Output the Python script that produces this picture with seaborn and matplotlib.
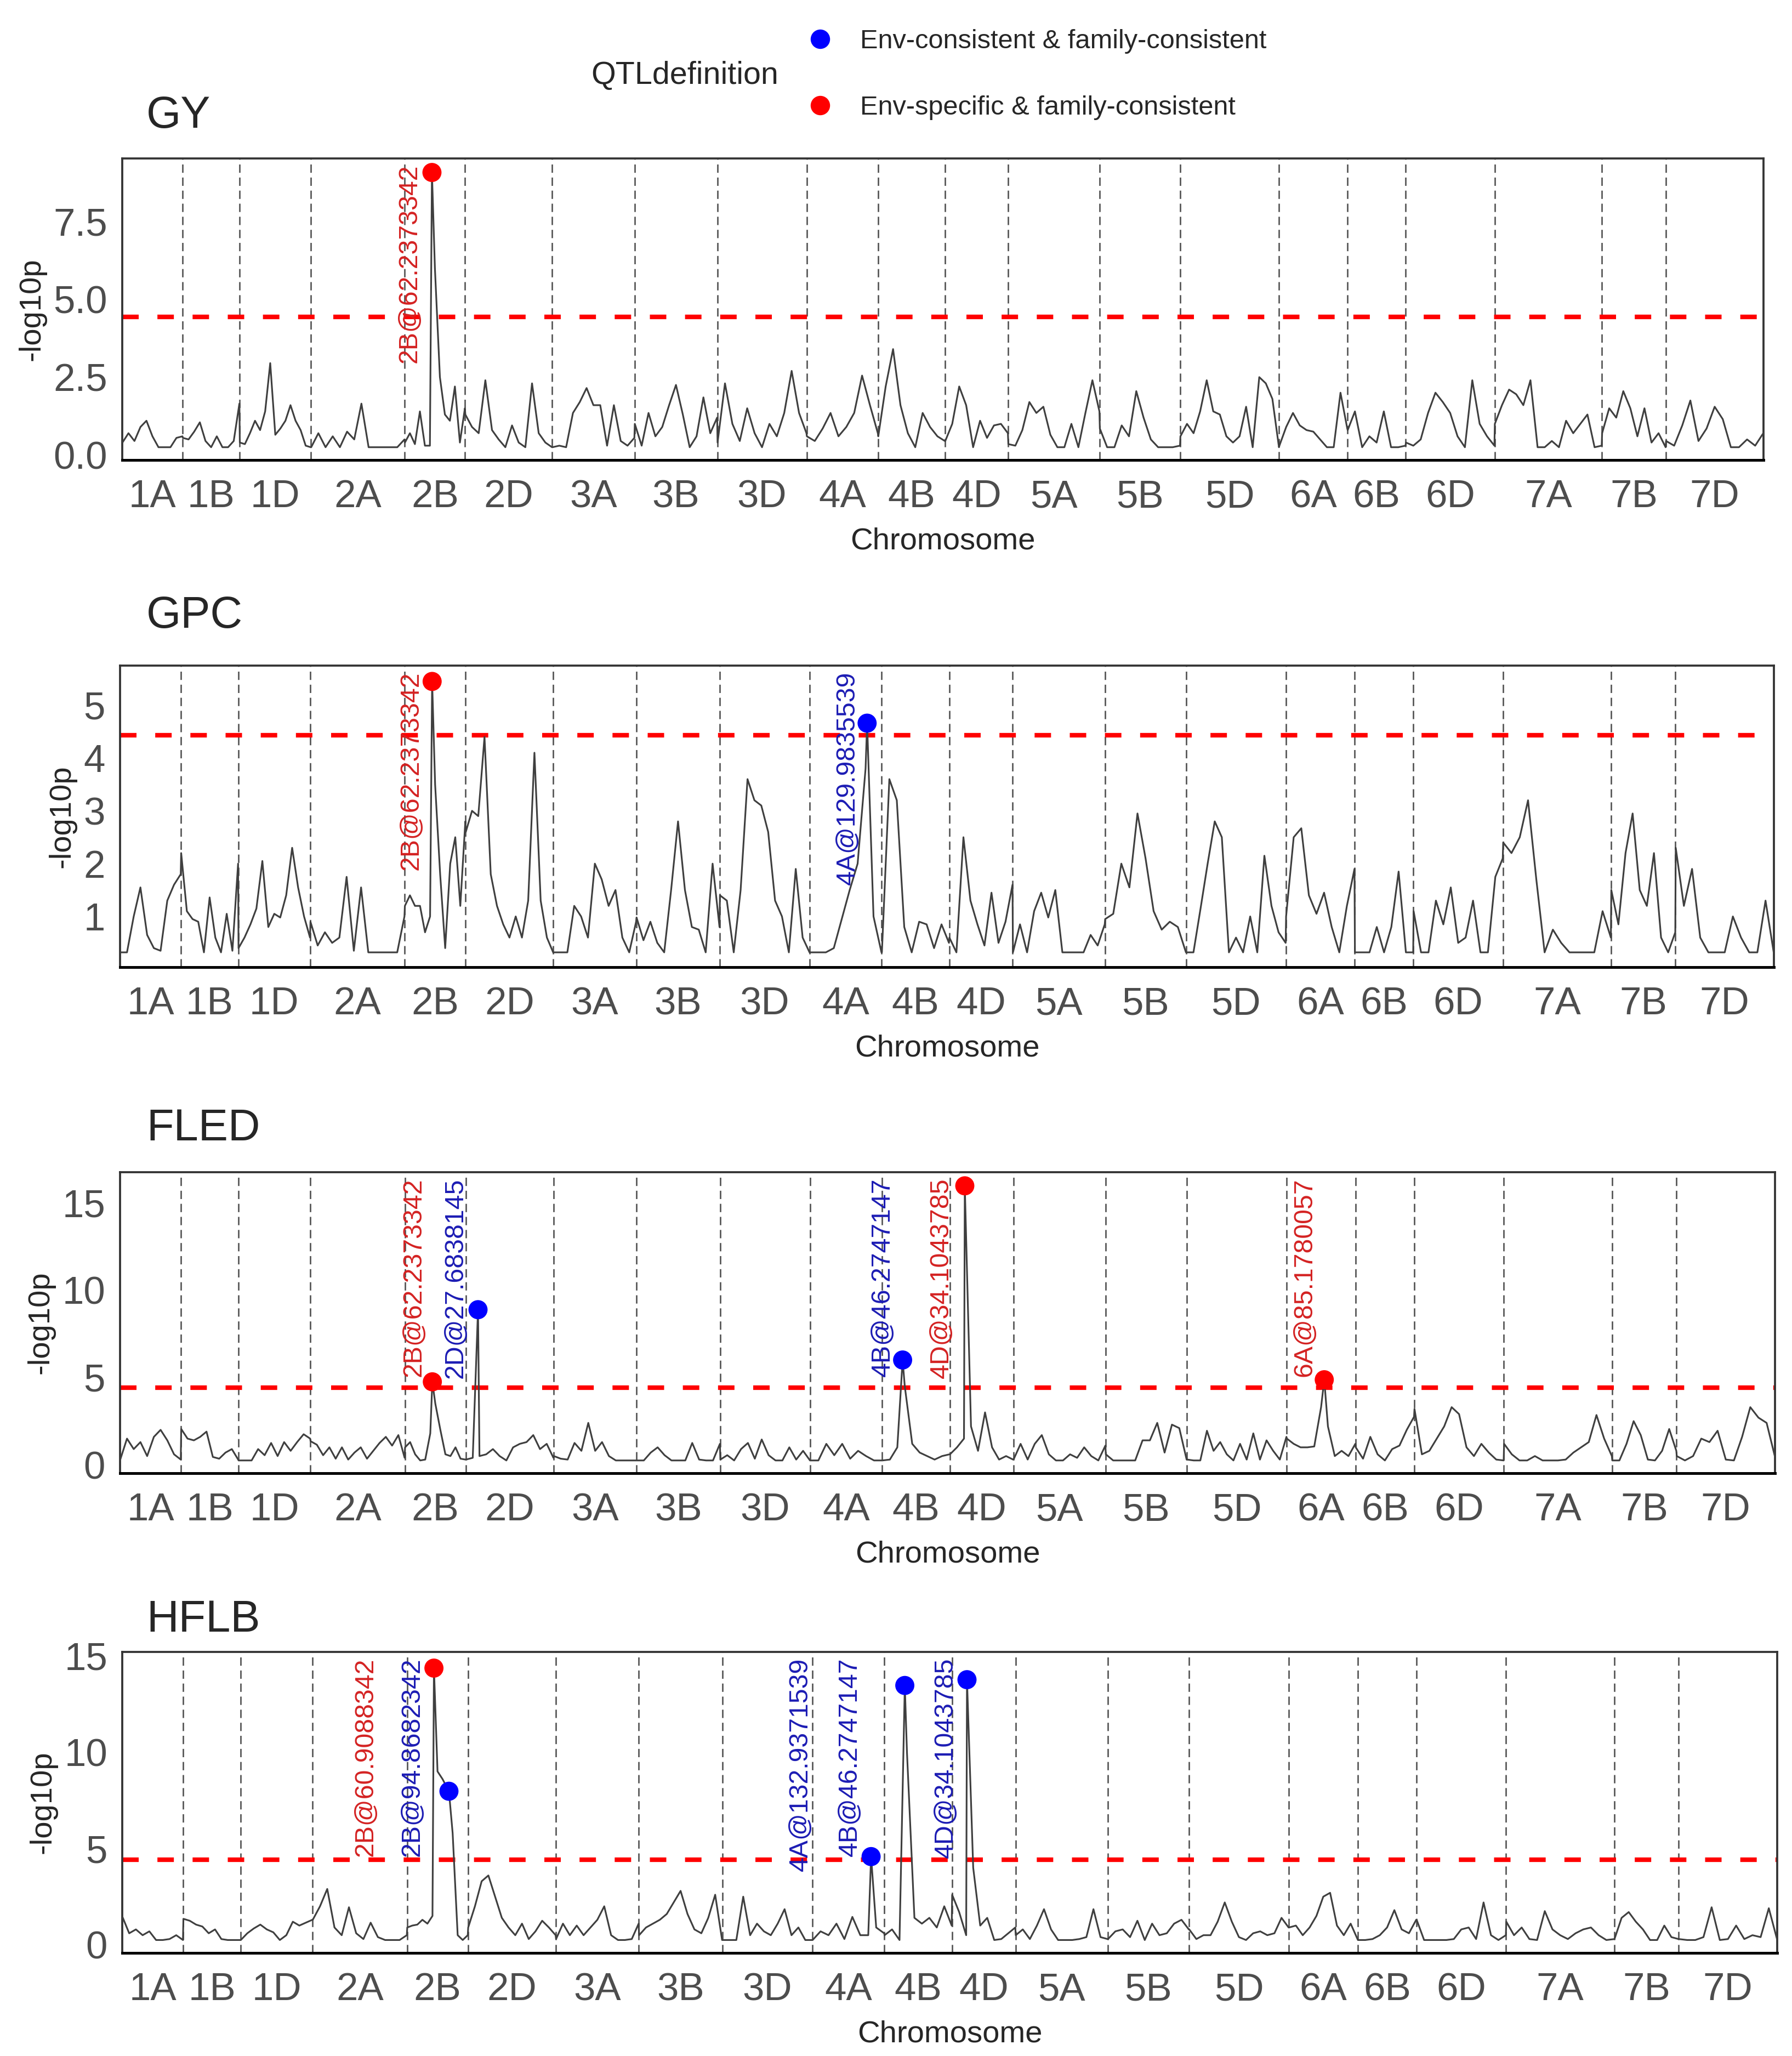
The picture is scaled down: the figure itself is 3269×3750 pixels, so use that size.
import numpy as np
import pandas as pd
import matplotlib
matplotlib.use("Agg")
import matplotlib.pyplot as plt
from matplotlib.lines import Line2D
import seaborn as sns

# chromosomes and their lengths (cM) read from the dashed boundaries
chromosomes = ["1A", "1B", "1D", "2A", "2B", "2D", "3A", "3B", "3D", "4A", "4B",
               "4D", "5A", "5B", "5D", "6A", "6B", "6D", "7A", "7B", "7D"]
chrom_len = [138, 130, 163, 214, 138, 199, 188, 189, 204, 163, 153,
             144, 209, 184, 226, 156, 133, 203, 245, 146, 223]

threshold = 4.43

# -log10p profiles, one sub-list per chromosome (markers evenly spread along it)
gy_lod = [
    [0.4, 0.7, 0.45, 0.9, 1.1, 0.6, 0.25, 0.25, 0.25, 0.55, 0.6],
    [0.55, 0.5, 0.75, 1.05, 0.45, 0.25, 0.6, 0.25, 0.25, 0.45, 1.65],
    [0.4, 0.35, 0.7, 1.1, 0.8, 1.4, 2.95, 0.65, 0.85, 1.1, 1.6, 1.1, 0.8, 0.3, 0.25],
    [0.25, 0.7, 0.25, 0.6, 0.25, 0.75, 0.5, 1.65, 0.25, 0.25, 0.25, 0.25, 0.25, 0.5],
    [0.4, 0.7, 0.35, 1.4, 0.3, 0.3, 6.0, 2.5, 1.3, 1.1, 2.2, 0.4, 1.5],
    [1.3, 0.9, 0.7, 2.4, 0.8, 0.5, 0.25, 0.95, 0.4, 0.25, 2.3, 0.7, 0.4, 0.25],
    [0.25, 0.3, 0.25, 1.35, 1.7, 2.15, 1.6, 1.6, 0.3, 1.6, 0.45, 0.3, 0.55],
    [1.0, 0.3, 1.35, 0.6, 0.9, 1.6, 2.25, 1.3, 0.25, 0.6, 1.85, 0.7, 1.2],
    [0.4, 2.3, 1.0, 0.45, 1.5, 0.7, 0.25, 1.0, 0.6, 1.35, 2.7, 1.35, 0.7],
    [0.6, 0.45, 0.85, 1.35, 0.6, 0.9, 1.35, 2.55, 1.6, 0.7],
    [0.6, 2.2, 3.4, 1.6, 0.7, 0.25, 1.35, 0.9, 0.6, 0.45],
    [0.45, 1.0, 2.2, 1.6, 0.25, 1.1, 0.55, 0.95, 1.0, 0.7],
    [0.35, 0.3, 0.8, 1.7, 1.35, 1.55, 0.65, 0.25, 0.25, 1.0, 0.25, 1.35, 2.4, 1.4],
    [0.85, 0.25, 0.25, 0.95, 0.6, 2.05, 1.2, 0.5, 0.25, 0.25, 0.25, 0.3],
    [0.6, 1.0, 0.7, 1.4, 2.4, 1.4, 1.3, 0.6, 0.4, 0.6, 1.55, 0.25, 2.5, 2.3, 1.8, 0.25],
    [0.3, 0.9, 1.35, 0.95, 0.8, 0.75, 0.5, 0.25, 0.25, 2.0, 0.85],
    [0.8, 1.4, 0.25, 0.6, 0.4, 1.4, 0.25, 0.25, 0.3],
    [0.4, 0.3, 0.5, 1.35, 2.0, 1.7, 1.35, 0.6, 0.25, 2.4, 1.0, 0.6, 0.3],
    [1.0, 1.6, 2.1, 1.95, 1.6, 2.4, 0.25, 0.25, 0.45, 0.25, 1.1, 0.7, 1.0, 1.3, 0.25, 0.3],
    [0.7, 1.5, 1.2, 2.05, 1.5, 0.6, 1.5, 0.4, 0.7, 0.25],
    [0.45, 0.3, 0.95, 1.75, 0.45, 0.85, 1.55, 1.15, 0.25, 0.25, 0.5, 0.3, 0.7],
]

gpc_lod = [
    [0.32, 0.32, 1.0, 1.55, 0.65, 0.4, 0.35, 1.3, 1.6, 1.8],
    [2.2, 1.1, 0.95, 0.9, 0.32, 1.36, 0.6, 0.32, 1.05, 0.35, 2.0],
    [0.4, 0.6, 0.85, 1.15, 2.05, 0.8, 1.05, 0.98, 1.4, 2.3, 1.55, 1.0, 0.6],
    [0.9, 0.45, 0.7, 0.5, 0.6, 1.75, 0.35, 1.55, 0.32, 0.32, 0.32, 0.32, 0.32, 1.0],
    [1.2, 1.4, 1.2, 1.2, 0.7, 1.0, 3.5, 1.8, 0.4, 2.0, 2.5, 1.2, 2.8],
    [2.6, 3.0, 2.9, 4.4, 1.8, 1.2, 0.85, 0.6, 1.0, 0.6, 1.3, 4.1, 1.3, 0.6, 0.32],
    [0.32, 0.32, 0.32, 1.2, 1.0, 0.6, 2.0, 1.7, 1.2, 1.5, 0.6, 0.32, 0.9],
    [0.98, 0.55, 0.9, 0.5, 0.32, 1.5, 2.8, 1.5, 0.8, 0.75, 0.32, 2.0, 0.8],
    [1.4, 1.3, 0.32, 1.5, 3.6, 3.2, 3.1, 2.6, 1.3, 1.0, 0.32, 1.9, 0.6, 0.32],
    [0.32, 0.32, 0.32, 0.4, 0.95, 1.5, 2.0, 3.8, 1.0, 0.32],
    [0.32, 3.6, 3.2, 0.8, 0.32, 0.9, 0.85, 0.4, 0.85, 0.5],
    [0.6, 0.32, 2.5, 1.3, 0.85, 0.45, 1.45, 0.5, 0.9, 1.6],
    [0.32, 0.85, 0.32, 1.1, 1.45, 0.98, 1.5, 0.32, 0.32, 0.32, 0.32, 0.65, 0.45, 0.85],
    [0.95, 1.05, 2.0, 1.55, 2.95, 2.1, 1.1, 0.75, 0.9, 0.8, 0.32],
    [0.32, 0.32, 1.15, 2.0, 2.8, 2.5, 0.32, 0.6, 0.32, 1.0, 0.32, 2.15, 1.2, 0.7, 0.5],
    [1.0, 2.5, 2.67, 1.4, 1.05, 1.45, 0.8, 0.32, 1.2, 1.9],
    [0.32, 0.32, 0.32, 0.8, 0.32, 0.8, 1.85, 0.32, 0.32],
    [1.1, 0.32, 0.32, 1.3, 0.85, 1.55, 0.5, 0.6, 1.3, 0.32, 0.32, 1.75, 2.1],
    [2.4, 2.2, 2.5, 3.2, 1.7, 0.32, 0.75, 0.5, 0.32, 0.32, 0.32, 0.32, 1.1, 0.6],
    [1.5, 0.85, 2.2, 2.95, 1.5, 1.2, 2.2, 0.6, 0.32, 0.7],
    [2.3, 1.2, 1.9, 0.6, 0.32, 0.32, 0.32, 1.0, 0.6, 0.32, 0.32, 1.3, 0.32],
]

fled_lod = [
    [0.3, 1.5, 0.9, 1.3, 0.5, 1.6, 2.0, 1.4, 0.6, 0.3],
    [2.05, 1.5, 1.4, 1.6, 1.9, 0.45, 0.35, 0.7, 0.9, 0.3],
    [0.25, 0.25, 0.25, 0.9, 0.55, 1.25, 0.5, 1.3, 0.8, 1.3, 1.75, 1.5],
    [1.35, 1.15, 0.55, 1.0, 0.35, 1.0, 0.3, 0.7, 1.0, 0.35, 0.8, 1.25, 1.6, 1.1, 1.7, 0.4],
    [1.0, 1.3, 0.6, 0.25, 0.3, 1.8, 3.5, 2.0, 0.6, 0.5, 1.0, 0.35, 0.3],
    [0.3, 0.4, 0.5, 0.6, 0.9, 0.5, 0.25, 1.0, 1.2, 1.3, 1.7, 0.9, 1.2, 0.4],
    [0.5, 0.35, 0.3, 1.25, 0.8, 2.4, 0.8, 1.3, 0.5, 0.25, 0.25, 0.25, 0.25],
    [0.25, 0.25, 0.7, 1.0, 0.55, 0.25, 0.25, 0.25, 1.25, 0.3, 0.25, 0.25, 1.2],
    [0.3, 0.55, 0.25, 0.9, 1.25, 0.35, 1.45, 0.55, 0.25, 0.25, 1.0, 0.3, 0.8, 0.25],
    [0.25, 0.25, 1.2, 0.55, 1.2, 0.35, 0.8, 0.5, 0.25, 0.25],
    [0.25, 0.3, 1.0, 4.5, 1.2, 0.7, 0.5, 0.3, 0.5, 0.6],
    [0.6, 1.0, 1.5, 2.2, 0.8, 3.0, 1.0, 0.3, 0.5, 0.3],
    [0.3, 1.2, 0.3, 1.2, 1.7, 0.6, 0.25, 0.25, 0.6, 0.4, 1.0, 0.5, 0.25, 1.1],
    [0.6, 0.25, 0.25, 0.25, 0.25, 1.4, 1.4, 2.4, 0.7, 2.3, 2.1, 0.3],
    [0.3, 0.25, 0.25, 1.95, 0.8, 1.3, 0.6, 0.25, 1.2, 0.3, 1.8, 0.3, 1.4, 0.8, 0.3, 1.6],
    [1.5, 1.2, 1.0, 1.0, 1.05, 3.3, 2.2, 0.5, 0.8, 0.5, 1.2],
    [1.0, 0.35, 1.6, 0.6, 0.25, 0.9, 1.1, 2.0, 2.75],
    [3.2, 0.6, 0.8, 1.5, 2.2, 3.3, 2.9, 1.0, 0.5, 1.2, 0.7, 0.3, 0.25],
    [1.2, 0.6, 0.25, 0.25, 0.5, 0.25, 0.25, 0.25, 0.3, 0.7, 1.0, 1.3, 2.85, 1.5, 0.5],
    [0.25, 0.25, 1.2, 2.5, 1.7, 0.3, 0.25, 0.8, 2.05, 0.8],
    [0.5, 0.25, 0.5, 1.5, 1.3, 1.95, 0.3, 0.25, 1.6, 3.3, 2.7, 2.4, 0.5],
]

hflb_lod = [
    [1.45, 0.6, 0.8, 0.5, 0.7, 0.25, 0.25, 0.3, 0.5, 0.25],
    [1.35, 1.25, 1.05, 0.95, 0.6, 0.8, 0.3, 0.25, 0.25, 0.25],
    [0.25, 0.6, 0.85, 1.05, 0.8, 0.65, 0.25, 0.5, 1.2, 1.0, 1.15, 1.3],
    [1.3, 2.0, 2.9, 0.9, 0.5, 1.95, 0.6, 0.3, 1.15, 0.4, 0.25, 0.25, 0.25, 0.5],
    [0.9, 1.0, 1.05, 1.3, 1.1, 1.5, 9.0, 8.6, 8.1, 5.8, 0.5, 0.25, 0.5],
    [0.9, 2.0, 3.3, 3.6, 2.5, 1.4, 0.9, 0.5, 1.1, 0.3, 0.7, 1.25, 0.9, 0.5],
    [0.3, 1.1, 0.5, 1.0, 0.5, 0.9, 1.3, 2.0, 0.5, 0.25, 0.25, 0.3, 1.1],
    [0.5, 0.9, 1.1, 1.3, 1.6, 2.2, 2.8, 1.6, 0.8, 0.6, 1.4, 2.6, 0.25],
    [0.25, 0.25, 0.25, 2.5, 0.5, 1.1, 0.7, 0.5, 1.1, 1.85, 0.5, 0.9, 0.25, 0.25],
    [0.25, 0.7, 0.5, 1.1, 0.3, 1.45, 0.5, 0.5, 0.9, 0.6],
    [0.5, 0.8, 0.25, 10.0, 1.4, 1.1, 1.4, 0.9, 2.0, 1.0],
    [2.6, 1.7, 0.5, 4.0, 1.0, 1.4, 0.25, 0.3, 0.6, 0.9],
    [0.5, 0.8, 0.3, 1.0, 1.85, 0.8, 0.25, 0.25, 0.25, 0.3, 0.4, 1.85, 0.4, 0.3],
    [0.3, 0.7, 0.8, 0.4, 1.25, 0.25, 1.1, 0.5, 0.6, 1.1, 1.3, 0.8],
    [0.8, 0.3, 0.5, 0.5, 1.2, 2.2, 1.2, 0.4, 0.25, 0.6, 0.7, 0.5, 0.6, 1.4, 0.9],
    [0.9, 1.0, 0.5, 0.9, 1.5, 2.5, 2.7, 1.0, 0.5, 1.1, 0.3],
    [0.25, 0.25, 0.3, 0.5, 0.9, 1.8, 0.8, 0.6, 1.3],
    [1.3, 0.25, 0.25, 0.25, 0.25, 0.3, 0.8, 0.9, 0.3, 2.2, 0.5, 0.25, 0.5],
    [1.2, 0.5, 0.9, 0.3, 0.25, 1.75, 0.8, 0.5, 0.3, 0.6, 0.8, 0.9, 0.5, 0.25, 0.3],
    [0.3, 1.4, 1.7, 1.2, 0.8, 0.25, 0.25, 1.0, 0.4, 0.3],
    [0.3, 0.25, 0.25, 0.4, 1.95, 0.25, 0.3, 1.0, 0.3, 0.5, 0.4, 1.9, 0.3],
]

# QTL peaks: chromosome, position (cM), -log10p, definition
gy_qtl = [("2B", 62.2373342, 9.07, "specific")]
gpc_qtl = [("2B", 62.2373342, 5.45, "specific"),
           ("4A", 129.9835539, 4.66, "consistent")]
fled_qtl = [("2B", 62.2373342, 4.75, "specific"),
            ("2D", 27.6838145, 8.88, "consistent"),
            ("4B", 46.2747147, 6.0, "consistent"),
            ("4D", 34.1043785, 15.97, "specific"),
            ("6A", 85.1780057, 4.87, "specific")]
hflb_qtl = [("2B", 60.9088342, 14.36, "specific"),
            ("2B", 94.8682342, 7.97, "consistent"),
            ("4A", 132.9371539, 4.58, "consistent"),
            ("4B", 46.2747147, 13.46, "consistent"),
            ("4D", 34.1043785, 13.76, "consistent")]

legend_names = {"consistent": "Env-consistent & family-consistent",
                "specific": "Env-specific & family-consistent"}

# ---- styling / layout ----
W, H = 3269, 3750
point_col = {"consistent": "#0000FF", "specific": "#FF0000"}
text_col = {"consistent": "#1C1CB4", "specific": "#D42222"}

panels = [
    dict(name="GY", lod=gy_lod, qtl=gy_qtl, rect=(223, 289, 3217, 839), title_y=212,
         ylim=(-0.16, 9.52), yticks=[0, 2.5, 5, 7.5], fmt="{:.1f}", dx=[-9.7]),
    dict(name="GPC", lod=gpc_lod, qtl=gpc_qtl, rect=(219, 1214, 3236, 1764), title_y=1124,
         ylim=(0.04, 5.75), yticks=[1, 2, 3, 4, 5], fmt="{:.0f}", dx=[-9.2, -8.6]),
    dict(name="FLED", lod=fled_lod, qtl=fled_qtl, rect=(219, 2138, 3238, 2687), title_y=2059,
         ylim=(-0.48, 16.75), yticks=[0, 5, 10, 15], fmt="{:.0f}",
         dx=[-8.0, -9.7, -8.6, -10.3, -8.6]),
    dict(name="HFLB", lod=hflb_lod, qtl=hflb_qtl, rect=(223, 3013, 3242, 3562), title_y=2955,
         ylim=(-0.42, 15.2), yticks=[0, 5, 10, 15], fmt="{:.0f}",
         dx=[-29.8, -16.0, -31.0, -24.0, -9.2]),
]

sns.set_style("white")
plt.rcParams["font.family"] = ["Liberation Sans", "DejaVu Sans"]

starts = dict(zip(chromosomes, np.cumsum([0] + chrom_len[:-1])))
total = sum(chrom_len)
ends = np.cumsum(chrom_len)[:-1]
mids = [starts[c] + l / 2 for c, l in zip(chromosomes, chrom_len)]


def curve_frame(lod_lists, qtls):
    xs, ys = [], []
    for chrom, length, vals in zip(chromosomes, chrom_len, lod_lists):
        grid = np.linspace(0.5, length - 0.5, len(vals))
        xs.extend(starts[chrom] + grid)
        ys.extend(vals)
    for chrom, pos, lod, kind in qtls:
        xs.append(starts[chrom] + pos)
        ys.append(lod)
    df = pd.DataFrame({"pos": xs, "lod": ys})
    return df.sort_values("pos", kind="mergesort").reset_index(drop=True)


fig = plt.figure(figsize=(W / 300, H / 300), dpi=300)

for p in panels:
    l, t, r, b = p["rect"]
    ax = fig.add_axes([l / W, 1 - b / H, (r - l) / W, (b - t) / H])

    for e in ends:
        ax.axvline(e, color="#555555", lw=0.65, ls=(0, (5.6, 3.2)), zorder=1)
    ax.axhline(threshold, color="#FF0000", lw=2.0, ls=(0, (3.6, 4.1)), zorder=2)

    df = curve_frame(p["lod"], p["qtl"])
    sns.lineplot(data=df, x="pos", y="lod", ax=ax, estimator=None, sort=True,
                 color="#3F3F3F", linewidth=0.75, zorder=3)

    qdf = pd.DataFrame(p["qtl"], columns=["chrom", "cm", "lod", "kind"])
    qdf["pos"] = [starts[c] + cm for c, cm in zip(qdf["chrom"], qdf["cm"])]
    sns.scatterplot(data=qdf, x="pos", y="lod", hue="kind", palette=point_col,
                    s=70, edgecolor="none", linewidth=0, legend=False, ax=ax, zorder=5)

    for (chrom, cm, lod, kind), dx in zip(p["qtl"], p["dx"]):
        ax.annotate(f"{chrom}@{cm}", xy=(starts[chrom] + cm, 1),
                    xycoords=("data", "axes fraction"), xytext=(dx, -2.5),
                    textcoords="offset points", rotation=90, ha="center", va="top",
                    color=text_col[kind], fontsize=11.6, zorder=6)

    ax.set_xlim(0, total)
    ax.set_ylim(*p["ylim"])
    ax.set_xticks(mids)
    ax.set_xticklabels(chromosomes)
    ax.set_yticks(p["yticks"])
    ax.set_yticklabels([p["fmt"].format(v) for v in p["yticks"]])
    ax.tick_params(axis="both", labelsize=17, labelcolor="#4D4D4D", colors="#333333",
                   length=3.5, width=0.8)
    ax.tick_params(axis="x", pad=5)
    ax.tick_params(axis="y", pad=3)
    for lab in ax.get_xticklabels() + ax.get_yticklabels():
        lab.set_color("#4D4D4D")
    ax.set_xlabel("Chromosome", fontsize=13.5, labelpad=5)
    ax.set_ylabel("-log10p", fontsize=13.5, labelpad=3)
    for side, sp in ax.spines.items():
        sp.set_color("#333333")
        sp.set_linewidth(0.9)
    ax.spines["bottom"].set_color("black")
    ax.spines["bottom"].set_linewidth(1.2)

    fig.text(267 / W, 1 - p["title_y"] / H, p["name"], fontsize=19.5,
             ha="left", va="center")

# legend at the top
handles = [Line2D([], [], ls="none", marker="o", markersize=8.5,
                  markerfacecolor=point_col[k], markeredgecolor="none")
           for k in ["consistent", "specific"]]
fig.legend(handles, [legend_names["consistent"], legend_names["specific"]],
           loc="center left", bbox_to_anchor=(1428 / W, 1 - 136 / H), frameon=False,
           fontsize=11.7, handlelength=1.0, handletextpad=1.0, labelspacing=1.55,
           borderpad=0.4)
fig.text(1078 / W, 1 - 138 / H, "QTLdefinition", fontsize=13.8, ha="left", va="center")

fig.savefig("out.png", dpi=300)
